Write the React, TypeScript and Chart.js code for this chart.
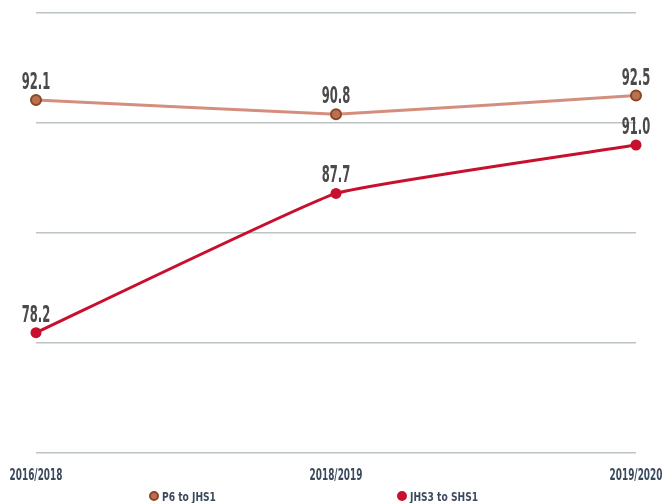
import React, { useEffect, useRef } from "react";
import { Chart, registerables } from "chart.js";

Chart.register(...registerables);

const categories = ["2016/2018", "2018/2019", "2019/2020"];
const seriesNames = ["P6 to JHS1", "JHS3 to SHS1"];
const p6Values = [92.1, 90.8, 92.5];
const jhsValues = [78.2, 87.7, 91.0];

const FONT = "'DejaVu Sans Condensed', 'DejaVu Sans', sans-serif";

const labelPlugin = {
  id: "pointLabels",
  afterDatasetsDraw(chart: any) {
    const ctx = chart.ctx;
    chart.data.datasets.forEach((ds: any, i: number) => {
      const meta = chart.getDatasetMeta(i);
      meta.data.forEach((pt: any, j: number) => {
        const v = ds.data[j] as number;
        ctx.save();
        ctx.translate(pt.x, pt.y - 11);
        ctx.scale(0.56, 1);
        ctx.font = `bold 23px ${FONT}`;
        ctx.fillStyle = "#4a4a4c";
        ctx.textAlign = "center";
        ctx.textBaseline = "alphabetic";
        ctx.fillText(v.toFixed(1), 0, 0);
        ctx.restore();
      });
    });
  },
};

const xLabelPlugin = {
  id: "xLabels",
  afterDraw(chart: any) {
    const ctx = chart.ctx;
    const xs = chart.scales.x;
    const labels = chart.data.labels as string[];
    labels.forEach((lab, i) => {
      const x = xs.getPixelForTick(i);
      ctx.save();
      ctx.translate(x, chart.chartArea.bottom + 27);
      ctx.scale(0.66, 1);
      ctx.font = `bold 15px ${FONT}`;
      ctx.fillStyle = "#3a4a5c";
      ctx.textAlign = "center";
      ctx.textBaseline = "alphabetic";
      ctx.fillText(lab, 0, 0);
      ctx.restore();
    });
  },
};

export default function App() {
  const ref = useRef<HTMLCanvasElement | null>(null);

  useEffect(() => {
    if (!ref.current) return;
    const chart = new Chart(ref.current, {
      type: "line",
      data: {
        labels: categories,
        datasets: [
          {
            label: seriesNames[0],
            data: p6Values,
            yAxisID: "y",
            borderColor: "#d48e7e",
            borderWidth: 3,
            pointRadius: 5,
            pointBorderWidth: 2,
            pointBackgroundColor: "#b9714f",
            pointBorderColor: "#8e4526",
            tension: 0.05,
            clip: false as any,
          },
          {
            label: seriesNames[1],
            data: jhsValues,
            yAxisID: "y2",
            borderColor: "#c8102e",
            borderWidth: 3,
            pointRadius: 5.5,
            pointBorderWidth: 0,
            pointBackgroundColor: "#c8102e",
            pointBorderColor: "#c8102e",
            tension: 0.1,
            clip: false as any,
          },
        ],
      },
      options: {
        animation: false,
        responsive: true,
        maintainAspectRatio: false,
        layout: { padding: { left: 36, right: 27, top: 13, bottom: 20 } },
        plugins: { legend: { display: false }, tooltip: { enabled: false } },
        scales: {
          x: {
            offset: false,
            grid: { display: false, drawTicks: false },
            border: { display: false },
            ticks: { display: false },
            afterFit: (s: any) => {
              s.height = 30;
            },
          },
          y: {
            min: 60,
            max: 100,
            ticks: { stepSize: 10, display: false },
            grid: { color: "#bcc3c7", lineWidth: 1.5, drawTicks: false },
            border: { display: false },
            afterFit: (s: any) => {
              s.width = 0;
            },
          },
          y2: {
            display: false,
            min: 70,
            max: 100,
          },
        },
      },
      plugins: [labelPlugin, xLabelPlugin],
    });
    return () => chart.destroy();
  }, []);

  const legendItem = (name: string, left: number, fill: string, border: string) => (
    <div
      key={name}
      style={{
        position: "absolute",
        left,
        top: 489,
        height: 14,
        display: "flex",
        alignItems: "center",
        whiteSpace: "nowrap",
      }}
    >
      <span
        style={{
          display: "inline-block",
          width: 10,
          height: 10,
          borderRadius: "50%",
          background: fill,
          boxSizing: "border-box",
          border: `2px solid ${border}`,
          marginRight: 3,
        }}
      />
      <span
        style={{
          display: "inline-block",
          font: `bold 13px ${FONT}`,
          color: "#3a4a5c",
          transform: "scaleX(0.78)",
          transformOrigin: "left center",
        }}
      >
        {name}
      </span>
    </div>
  );

  return (
    <div style={{ position: "absolute", left: 0, top: 0, width: 663, height: 503, background: "#fff" }}>
      <canvas ref={ref} />
      {legendItem(seriesNames[0], 149, "#b9714f", "#8e4526")}
      {legendItem(seriesNames[1], 397, "#c8102e", "#c8102e")}
    </div>
  );
}
